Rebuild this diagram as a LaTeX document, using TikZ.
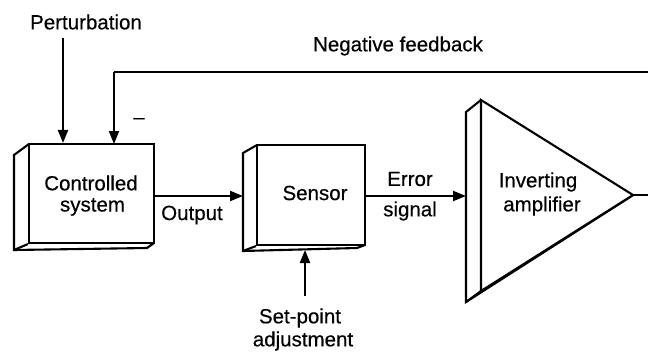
\documentclass[tikz,border=0pt]{standalone}
\usepackage{fontspec}
\setmainfont{Liberation Sans}[FakeBold=0.4]
\usetikzlibrary{arrows.meta}
\tikzset{
  line/.style={line width=2.1pt, line join=miter},
  flow/.style={line, -{Triangle[length=13pt,width=10pt]}},
  face/.style={line, fill=white},
  lbl/.style={font=\fontsize{20.5}{24}\selectfont, inner sep=0pt},
}
\begin{document}
\begin{tikzpicture}[x=1pt,y=-1pt]
\useasboundingbox (0,0) rectangle (648,353);
\clip (0,0) rectangle (648,353);

% Controlled system: front face plus left and bottom faces
\draw[face] (29,144) -- (14,155) -- (14,250) -- (147,248) -- (154,243);
\node[face, draw, minimum width=125pt, minimum height=99pt] (cs) at (91.5,193.5) {};
\draw[line] (cs.south west) -- (14,250);
\node[lbl] (cst1) at (91,183) {Controlled};
\node[lbl] (cst2) at (92.5,207) {system};

% Sensor
\draw[face] (257,145) -- (243,153) -- (243,251) -- (357,248) -- (365,245);
\node[face, draw, minimum width=108pt, minimum height=100pt] (sn) at (311,195) {};
\draw[line] (sn.south west) -- (243,251);
\coordinate (snback) at (243,196);
\coordinate (snbottom) at (305,250);
\node[lbl] (snt) at (315,193) {Sensor};

% Inverting amplifier (triangle with depth)
\coordinate (at) at (481,100);
\coordinate (ab) at (481,291);
\coordinate (tip) at (633,195);
\coordinate (aback) at (466,196);
\draw[line] (at) -- (466,112) -- (466,302) -- (627,199) -- (tip);
\draw[line, fill=white] (at) -- (ab) -- (tip) -- cycle;
\draw[line] (ab) -- (466,302);
\node[lbl] (amt1) at (538,182) {Inverting};
\node[lbl] (amt2) at (542,206) {amplifier};

% Feedback path leaving the right edge
\coordinate (fbin) at (114,144);
\coordinate (fbc) at (114,72);
\draw[line] (tip) -- (660,195) -- (660,72) -- (fbc);
\draw[flow] (fbc) -- (fbin);
\node[lbl] (fbt) at (398,46) {Negative feedback};
\node[lbl] (minus) at (139,121) {--};

% Perturbation input
\coordinate (pin) at (63,38);
\draw[flow] (pin) -- (pin |- cs.north);
\node[lbl] (pt) at (86,22) {Perturbation};

% Signal flow
\draw[flow] (cs.east |- 0,196) -- (snback);
\node[lbl] (outt) at (192,215) {Output};
\draw[flow] (sn.east |- 0,196) -- (aback);
\node[lbl] (errt1) at (410,179) {Error};
\node[lbl] (errt2) at (410,211) {signal};

% Set-point input
\coordinate (spin) at (305,296);
\draw[flow] (spin) -- (snbottom);
\node[lbl] (spt1) at (300,318) {Set-point};
\node[lbl] (spt2) at (303,341) {adjustment};
\end{tikzpicture}
\end{document}
